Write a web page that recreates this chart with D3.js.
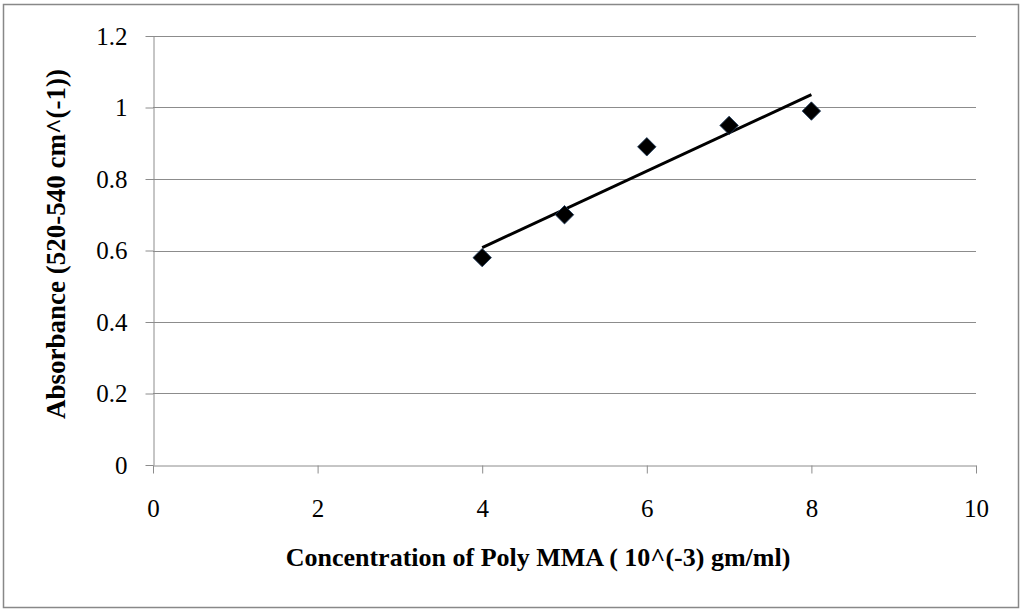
<!DOCTYPE html>
<html>
<head>
<meta charset="utf-8">
<script src="https://cdn.jsdelivr.net/npm/d3@7"></script>
<style>
  body { margin: 0; background: #fff; }
  text { font-family: "Liberation Serif", "Times New Roman", serif; }
</style>
</head>
<body>
<script>
// data
var concentration = [4, 5, 6, 7, 8];
var absorbance = [0.58, 0.70, 0.89, 0.95, 0.99];
// linear trendline ends, as drawn
var trendX = [4, 8];
var trendY = [0.608, 1.036];
var xTicks = [0, 2, 4, 6, 8, 10];
var yTicks = [0, 0.2, 0.4, 0.6, 0.8, 1, 1.2];

var w = 1024, h = 615;
var plotLeft = 153, plotRight = 976, plotTop = 36, plotBottom = 465;
var serif = "'Liberation Serif', 'Times New Roman', serif";

var svg = d3.select("body").append("svg")
    .attr("width", w)
    .attr("height", h);

// outer frame
svg.append("rect")
    .attr("x", 3.5).attr("y", 4.5)
    .attr("width", 1015).attr("height", 603)
    .attr("fill", "#fff")
    .attr("stroke", "#888")
    .attr("stroke-width", 1.5);

var xScale = d3.scaleLinear().domain([0, 10]).range([plotLeft, plotRight]);
var yScale = d3.scaleLinear().domain([0, 1.2]).range([plotBottom, plotTop]);

// gridlines
svg.append("g")
    .selectAll("line")
    .data(yTicks.slice(1))
    .enter()
    .append("line")
    .attr("x1", plotLeft).attr("x2", plotRight)
    .attr("y1", function(d) { return Math.round(yScale(d)) + 0.5; })
    .attr("y2", function(d) { return Math.round(yScale(d)) + 0.5; })
    .attr("stroke", "#8c8c8c")
    .attr("stroke-width", 1);

var xAxis = d3.axisBottom(xScale)
    .tickValues(xTicks)
    .tickSizeInner(8).tickSizeOuter(0)
    .tickPadding(26)
    .tickFormat(d3.format("d"));

var yAxis = d3.axisLeft(yScale)
    .tickValues(yTicks)
    .tickSizeInner(8).tickSizeOuter(0)
    .tickPadding(18)
    .tickFormat(function(d) { return String(+d.toFixed(1)); });

var gx = svg.append("g")
    .attr("transform", "translate(0," + (plotBottom + 0.5) + ")")
    .call(xAxis);
var gy = svg.append("g")
    .attr("transform", "translate(" + (plotLeft + 0.5) + ",0)")
    .call(yAxis);

[gx, gy].forEach(function(g) {
    g.selectAll("path, line").attr("stroke", "#8c8c8c");
    g.selectAll("text")
        .attr("fill", "#000")
        .attr("font-size", "25px")
        .style("font-family", serif);
});

// trendline
var line = d3.line()
    .x(function(d) { return xScale(d[0]); })
    .y(function(d) { return yScale(d[1]); });

svg.append("path")
    .datum(d3.zip(trendX, trendY))
    .attr("fill", "none")
    .attr("stroke", "#000")
    .attr("stroke-width", 3)
    .attr("d", line);

// diamond markers
var diamond = d3.symbol().type(d3.symbolSquare).size(170);
svg.append("g")
    .selectAll("path")
    .data(d3.zip(concentration, absorbance))
    .enter()
    .append("path")
    .attr("d", diamond)
    .attr("transform", function(d) {
        return "translate(" + xScale(d[0]) + "," + yScale(d[1]) + ") rotate(45)";
    })
    .attr("fill", "#000")
    .attr("stroke", "#1f3a5a")
    .attr("stroke-width", 0.8);

// axis titles
svg.append("text")
    .attr("x", 538)
    .attr("y", 566)
    .attr("text-anchor", "middle")
    .attr("font-size", "26px")
    .attr("font-weight", "bold")
    .style("font-family", serif)
    .text("Concentration of Poly MMA ( 10^(-3) gm/ml)");

svg.append("text")
    .attr("transform", "translate(65,244) rotate(-90)")
    .attr("text-anchor", "middle")
    .attr("font-size", "27px")
    .attr("font-weight", "bold")
    .style("font-family", serif)
    .text("Absorbance (520-540 cm^(-1))");
</script>
</body>
</html>
